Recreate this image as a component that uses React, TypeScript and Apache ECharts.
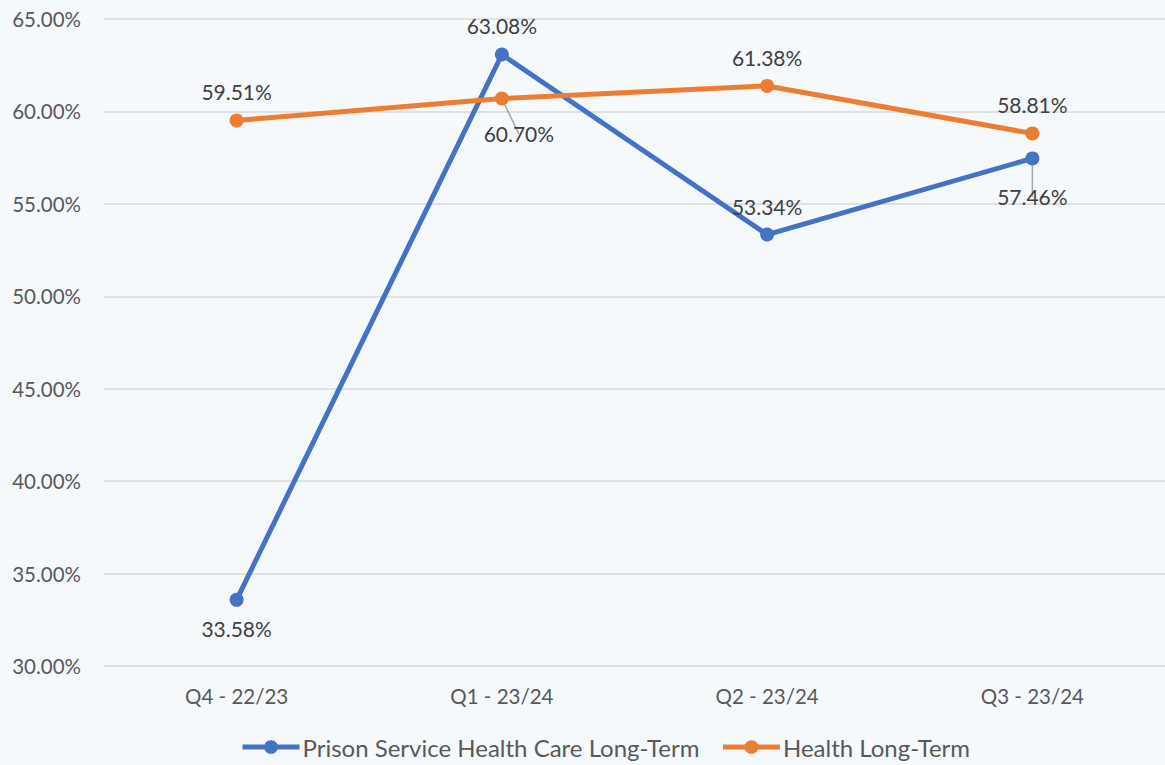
import React, { useEffect, useRef } from "react";
import * as echarts from "echarts";

const categories = ["Q4 - 22/23", "Q1 - 23/24", "Q2 - 23/24", "Q3 - 23/24"];
const prisonValues = [33.58, 63.08, 53.34, 57.46];
const healthValues = [59.51, 60.7, 61.38, 58.81];
const prisonName = "Prison Service Health Care Long-Term";
const healthName = "Health Long-Term";
const prisonLabelPos = ["bottom", "top", "top", "bottom"];
const healthLabelPos = ["top", "bottom", "top", "top"];

const FONT = "Lato, 'Open Sans', sans-serif";

export default function App() {
  const ref = useRef<HTMLDivElement>(null);
  useEffect(() => {
    if (!ref.current) return;
    const chart = echarts.init(ref.current, undefined, { renderer: "svg" });
    const labelBase = {
      show: true,
      fontFamily: FONT,
      fontSize: 21,
      color: "#404040",
      formatter: (p: any) => p.value.toFixed(2) + "%",
    };
    const leader = { show: true, lineStyle: { color: "#A6A6A6", width: 1.5 } };
    chart.setOption({
      animation: false,
      backgroundColor: "#F6F9FC",
      textStyle: { fontFamily: FONT },
      grid: { left: 104, right: 0, top: 19, bottom: 99 },
      legend: {
        bottom: 1,
        left: 235,
        itemWidth: 57,
        itemHeight: 17,
        itemGap: 21,
        lineStyle: { width: 5 },
        textStyle: { fontFamily: FONT, fontSize: 24, color: "#595959", padding: [0, 0, 0, -2] },
        data: [prisonName, healthName],
      },
      xAxis: {
        type: "category",
        data: categories,
        boundaryGap: true,
        axisLine: { show: false },
        axisTick: { show: false },
        axisLabel: { fontFamily: FONT, fontSize: 20.5, color: "#595959", margin: 19 },
      },
      yAxis: {
        type: "value",
        min: 30,
        max: 65,
        interval: 5,
        axisLabel: {
          fontFamily: FONT,
          fontSize: 20.5,
          color: "#595959",
          margin: 23,
          formatter: (v: number) => v.toFixed(2) + "%",
        },
        splitLine: { lineStyle: { color: "#D9D9D9", width: 1.5 } },
      },
      series: [
        {
          name: prisonName,
          type: "line",
          data: prisonValues.map((v, i) => {
            const d: any = { value: v, label: { position: prisonLabelPos[i], distance: 11 }, labelLine: { show: false } };
            if (i === 3) {
              d.label = { position: "bottom", distance: 21 };
              d.labelLine = leader;
            }
            return d;
          }),
          symbol: "circle",
          symbolSize: 14,
          lineStyle: { width: 5, color: "#4472C4" },
          itemStyle: { color: "#4472C4" },
          label: labelBase,
          z: 2,
        },
        {
          name: healthName,
          type: "line",
          data: healthValues.map((v, i) => {
            const d: any = { value: v, label: { position: healthLabelPos[i], distance: 11 }, labelLine: { show: false } };
            if (i === 1) {
              d.label = { position: "bottom", distance: 12, offset: [17, 6] };
              d.labelLine = leader;
            }
            return d;
          }),
          symbol: "circle",
          symbolSize: 14,
          lineStyle: { width: 5, color: "#ED7D31" },
          itemStyle: { color: "#ED7D31" },
          label: labelBase,
          z: 3,
        },
      ],
    });
    return () => chart.dispose();
  }, []);
  return <div ref={ref} style={{ width: 1165, height: 765, position: "absolute", left: 0, top: 0 }} />;
}
